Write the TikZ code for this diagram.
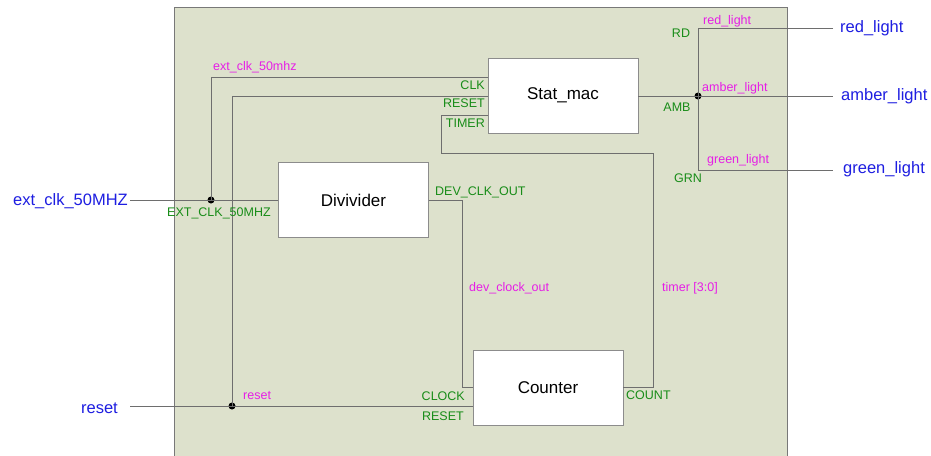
\documentclass[tikz,border=0pt]{standalone}
\usepackage{fontspec}
\setmainfont{Liberation Sans}
\definecolor{panelfill}{RGB}{221,225,204}
\definecolor{panelc}{RGB}{120,120,120}
\definecolor{wirec}{RGB}{110,110,110}
\definecolor{boxc}{RGB}{140,140,140}
\definecolor{portc}{RGB}{24,140,24}
\definecolor{netc}{RGB}{230,30,230}
\definecolor{ioc}{RGB}{30,30,225}
\begin{document}
\begin{tikzpicture}[x=1pt,y=-1pt,
  wire/.style={draw=wirec, line width=0.9pt},
  blk/.style={draw=boxc, fill=white, line width=0.9pt, minimum width=150pt,
    minimum height=75pt, font=\fontsize{17}{20}\selectfont, text=black, inner sep=0},
  port/.style={text=portc, font=\fontsize{12.5}{14}\selectfont, inner sep=0},
  net/.style={text=netc, font=\fontsize{12.5}{14}\selectfont, inner sep=0},
  io/.style={text=ioc, font=\fontsize{16.5}{19}\selectfont, inner sep=0},
  junc/.style={circle, fill=black, minimum size=7pt, inner sep=0}]

\clip (0,0) rectangle (931,455);
\fill[white] (0,0) rectangle (931,455);
% enclosing top-level block
\draw[draw=panelc, fill=panelfill, line width=0.9pt] (174,7) rectangle (787,470);

% sub-blocks
\node[blk] (stat) at (563,95.5) {Stat\_mac};
\node[blk] (div) at (353.5,200) {Divivider};
\node[blk] (cnt) at (548,387.5) {Counter};

% port points on the block edges
\coordinate (sclk) at (488,77);
\coordinate (srst) at (488,96);
\coordinate (stim) at (488,115);
\coordinate (samb) at (638,96);
\coordinate (cclk) at (473,387);
\coordinate (crst) at (473,406);
\coordinate (ccnt) at (623,387);

% bends and external ends
\coordinate (tA) at (441,153);
\coordinate (tB) at (653,387);
\coordinate (dA) at (462,200);
\coordinate (dB) at (462,387);
\coordinate (extin) at (130,200);
\coordinate (rstin) at (130,406);
\coordinate (redout) at (833,28);
\coordinate (ambout) at (833,96);
\coordinate (grnout) at (833,170);
\coordinate (rA) at (698,28);
\coordinate (gA) at (698,170);

% junctions
\node[junc] (j1) at (211,200) {};
\node[junc] (j2) at (232,406) {};
\node[junc] (j3) at (698,96) {};

% nets
\draw[wire] (extin) -- (div.west);
\draw[wire] (sclk) -| (j1.center);
\draw[wire] (rstin) -- (crst);
\draw[wire] (srst) -| (j2.center);
\draw[wire] (stim) -| (tA) -| (tB) -- (ccnt);
\draw[wire] (div.east) -- (dA) -- (dB) -- (cclk);
\draw[wire] (samb) -- (ambout);
\draw[wire] (redout) -- (rA) -- (gA) -- (grnout);

% net names
\node[net, anchor=west] (n1) at (213,67) {ext\_clk\_50mhz};
\node[net, anchor=west] (n2) at (703,21) {red\_light};
\node[net, anchor=west] (n3) at (702,88) {amber\_light};
\node[net, anchor=west] (n4) at (707,160) {green\_light};
\node[net, anchor=west] (n5) at (469,288) {dev\_clock\_out};
\node[net, anchor=west] (n6) at (662,288) {timer [3:0]};
\node[net, anchor=west] (n7) at (243,396) {reset};

% port names
\node[port, anchor=east] (p1) at (485,85) {CLK};
\node[port, anchor=east] (p2) at (485,103) {RESET};
\node[port, anchor=east] (p3) at (485,123) {TIMER};
\node[port] (p4) at (677,107) {AMB};
\node[port] (p5) at (681,33) {RD};
\node[port] (p6) at (688,178) {GRN};
\node[port, anchor=west] (p7) at (167,213) {EXT\_CLK\_50MHZ};
\node[port, anchor=west] (p8) at (435,192) {DEV\_CLK\_OUT};
\node[port, anchor=east] (p9) at (465,396) {CLOCK};
\node[port, anchor=east] (p10) at (464,416) {RESET};
\node[port, anchor=west] (p11) at (626,395) {COUNT};

% top-level I/O
\node[io, anchor=east] (i1) at (128,201) {ext\_clk\_50MHZ};
\node[io, anchor=east] (i2) at (118,408) {reset};
\node[io, anchor=west] (o1) at (840,28) {red\_light};
\node[io, anchor=west] (o2) at (841,96) {amber\_light};
\node[io, anchor=west] (o3) at (843,169) {green\_light};
\end{tikzpicture}
\end{document}
